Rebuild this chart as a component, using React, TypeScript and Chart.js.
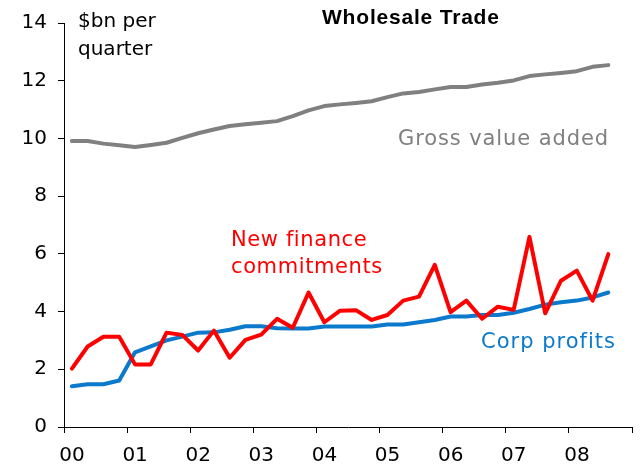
import React, { useEffect, useRef } from "react";
import { Chart, registerables } from "chart.js";

Chart.register(...registerables);

// Quarterly data, 2000 Q1 .. 2008 Q3 ($bn per quarter)
const yearLabels = ["00", "01", "02", "03", "04", "05", "06", "07", "08"];

const grossValueAdded = [
  9.91, 9.91, 9.82, 9.76, 9.7, 9.77, 9.85, 10.02, 10.18, 10.31, 10.43, 10.49,
  10.54, 10.6, 10.77, 10.97, 11.12, 11.18, 11.23, 11.29, 11.43, 11.56, 11.61, 11.7,
  11.78, 11.78, 11.87, 11.93, 12.01, 12.16, 12.22, 12.27, 12.33, 12.48, 12.54,
];

const newFinance = [
  2.02, 2.79, 3.13, 3.13, 2.17, 2.17, 3.27, 3.19, 2.65, 3.34, 2.4, 3.02,
  3.2, 3.75, 3.44, 4.66, 3.63, 4.03, 4.05, 3.71, 3.88, 4.38, 4.52, 5.62,
  3.98, 4.38, 3.75, 4.17, 4.06, 6.59, 3.94, 5.07, 5.42, 4.38, 5.99,
];

const corpProfits = [
  1.41, 1.48, 1.48, 1.61, 2.59, 2.79, 3.0, 3.13, 3.27, 3.28, 3.37, 3.49,
  3.49, 3.42, 3.41, 3.41, 3.48, 3.48, 3.48, 3.48, 3.55, 3.55, 3.63, 3.71,
  3.83, 3.83, 3.88, 3.88, 3.96, 4.09, 4.24, 4.32, 4.38, 4.49, 4.66,
];

const QUARTERS = 36;
const toPoints = (arr: number[]) => arr.map((v, i) => ({ x: i + 0.5, y: v }));

const FONT = "'DejaVu Sans', sans-serif";

const annotations = {
  id: "annotations",
  afterDraw(chart: any) {
    const ctx = chart.ctx as any;
    ctx.save();
    ctx.textBaseline = "middle";
    // title
    ctx.fillStyle = "#000";
    ctx.font = "bold 21px 'Liberation Sans', Arial, sans-serif";
    ctx.letterSpacing = "0.8px";
    ctx.textAlign = "left";
    ctx.fillText("Wholesale Trade", 322, 18);
    // unit label
    ctx.letterSpacing = "0px";
    ctx.font = `20px ${FONT}`;
    ctx.fillText("$bn per", 78, 22);
    ctx.fillText("quarter", 78, 50);
    // series labels
    ctx.font = `21px ${FONT}`;
    ctx.letterSpacing = "0.9px";
    ctx.fillStyle = "#808080";
    ctx.fillText("Gross value added", 398, 140);
    ctx.fillStyle = "#FF0000";
    ctx.letterSpacing = "0.6px";
    ctx.fillText("New finance", 231, 241);
    ctx.fillText("commitments", 231, 268);
    ctx.fillStyle = "#0B7ACC";
    ctx.letterSpacing = "1px";
    ctx.fillText("Corp profits", 481, 343);
    ctx.restore();
  },
};

export default function App() {
  const canvasRef = useRef<HTMLCanvasElement | null>(null);

  useEffect(() => {
    const canvas = canvasRef.current;
    if (!canvas) return;
    const chart = new Chart(canvas, {
      type: "line",
      data: {
        datasets: [
          {
            label: "New finance commitments",
            data: toPoints(newFinance),
            borderColor: "#FF0000",
            borderWidth: 4,
            pointRadius: 0,
            tension: 0,
            borderJoinStyle: "round",
            borderCapStyle: "round",
          },
          {
            label: "Corp profits",
            data: toPoints(corpProfits),
            borderColor: "#0B7ACC",
            borderWidth: 4,
            pointRadius: 0,
            tension: 0,
            borderJoinStyle: "round",
            borderCapStyle: "round",
          },
          {
            label: "Gross value added",
            data: toPoints(grossValueAdded),
            borderColor: "#808080",
            borderWidth: 4,
            pointRadius: 0,
            tension: 0,
            borderJoinStyle: "round",
            borderCapStyle: "round",
          },
        ],
      },
      options: {
        responsive: false,
        animation: false,
        events: [],
        layout: { padding: { top: 22, right: 1, left: 0, bottom: 0 } },
        plugins: {
          legend: { display: false },
          title: { display: false },
          tooltip: { enabled: false },
        },
        scales: {
          x: {
            type: "linear",
            min: 0,
            max: QUARTERS,
            afterFit: (s: any) => {
              s.height = 43;
            },
            afterBuildTicks: (s: any) => {
              const t = [];
              for (let v = 0; v <= QUARTERS; v += 4) t.push({ value: v });
              s.ticks = t;
            },
            ticks: {
              autoSkip: false,
              maxRotation: 0,
              minRotation: 0,
              labelOffset: 8,
              padding: 11,
              color: "#000",
              font: { family: FONT, size: 20 },
              callback: (v: any) => {
                const idx = Math.round(Number(v) / 4);
                return idx < yearLabels.length ? yearLabels[idx] : "";
              },
            },
            grid: {
              display: true,
              drawOnChartArea: false,
              drawTicks: true,
              tickLength: 6,
              tickColor: "#000",
              color: "#000",
            },
            border: { display: true, color: "#000", width: 1 },
          },
          y: {
            min: 0,
            max: 14,
            afterFit: (s: any) => {
              s.width = 64;
            },
            ticks: {
              stepSize: 2,
              padding: 11,
              color: "#000",
              font: { family: FONT, size: 20 },
            },
            grid: {
              display: true,
              drawOnChartArea: false,
              drawTicks: true,
              tickLength: 6,
              tickColor: "#000",
              color: "#000",
            },
            border: { display: true, color: "#000", width: 1 },
          },
        },
      },
      plugins: [annotations],
    });
    return () => chart.destroy();
  }, []);

  return (
    <div style={{ position: "absolute", left: 0, top: 0, width: 643, height: 470, background: "#fff" }}>
      <canvas ref={canvasRef} width={643} height={470} style={{ display: "block" }} />
    </div>
  );
}
